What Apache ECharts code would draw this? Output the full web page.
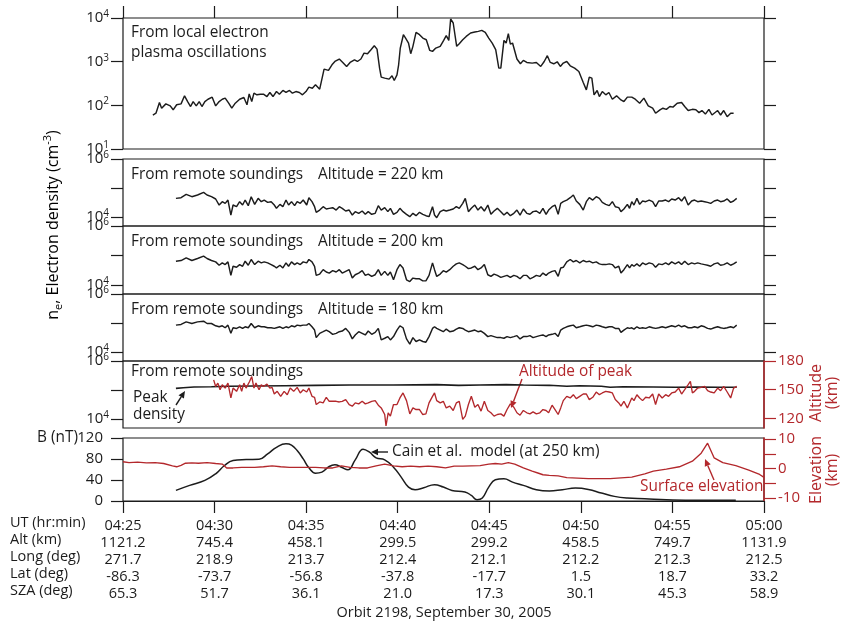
<!DOCTYPE html>
<html>
<head>
<meta charset="utf-8">
<script src="https://cdn.jsdelivr.net/npm/echarts@6/dist/echarts.min.js"></script>
<style>
  html, body { margin: 0; padding: 0; background: #fff; }
  #chart { width: 845px; height: 625px; }
</style>
</head>
<body>
<div id="chart"></div>
<script>
// Orbit 2198 pass, times in minutes after 04:25 UT

// Local electron plasma oscillations (cm^-3)
const localT = [
  1.63, 1.80, 1.99, 2.11, 2.34, 2.58, 2.74, 2.93, 3.17, 3.36,
  3.53, 3.69, 3.83, 4.00, 4.16, 4.31, 4.47, 4.64, 4.87, 5.06,
  5.25, 5.42, 5.58, 5.77, 5.94, 6.13, 6.37, 6.60, 6.77, 6.89,
  7.03, 7.15, 7.31, 7.50, 7.67, 7.86, 8.02, 8.19, 8.38, 8.54,
  8.73, 8.90, 9.09, 9.25, 9.44, 9.63, 9.80, 9.99, 10.15, 10.34,
  10.51, 10.74, 10.98, 11.22, 11.41, 11.57, 11.81, 12.00, 12.21, 12.40,
  12.64, 12.80, 12.99, 13.16, 13.35, 13.54, 13.72, 13.87, 14.01, 14.10,
  14.29, 14.53, 14.69, 14.81, 14.96, 15.05, 15.14, 15.31, 15.43, 15.59,
  15.71, 15.83, 16.00, 16.19, 16.37, 16.56, 16.75, 16.90, 17.08, 17.32,
  17.51, 17.65, 17.79, 17.89, 18.03, 18.22, 18.36, 18.55, 18.74, 18.98,
  19.21, 19.40, 19.59, 19.78, 19.97, 20.16, 20.35, 20.52, 20.63, 20.80,
  20.92, 21.04, 21.15, 21.27, 21.51, 21.70, 21.86, 22.05, 22.34, 22.57,
  22.81, 23.00, 23.17, 23.33, 23.52, 23.71, 23.88, 24.04, 24.23, 24.42,
  24.66, 24.89, 25.13, 25.30, 25.46, 25.60, 25.72, 25.89, 26.01, 26.17,
  26.36, 26.53, 26.72, 26.95, 27.19, 27.35, 27.54, 27.78, 27.97, 28.21,
  28.44, 28.68, 28.92, 29.08, 29.32, 29.48, 29.67, 29.86, 30.03, 30.26,
  30.50, 30.67, 30.86, 31.09, 31.28, 31.45, 31.61, 31.80, 31.99, 32.16,
  32.28, 32.47, 32.63, 32.80, 32.99, 33.18, 33.34
];
const localNe = [
  60, 66, 116, 86, 108, 97, 79, 103, 108, 165,
  122, 94, 122, 97, 122, 94, 122, 138, 154, 97,
  122, 138, 146, 112, 86, 112, 138, 151, 103, 183,
  122, 190, 174, 180, 180, 159, 197, 159, 207, 180,
  219, 197, 219, 190, 207, 197, 174, 207, 261, 247,
  295, 234, 675, 630, 849, 1010, 1150, 960, 778, 960,
  1105, 1010, 1150, 1570, 1520, 1880, 2320, 1940, 711, 442,
  420, 398, 475, 371, 500, 849, 2050, 4140, 3470, 2670,
  1520, 2240, 4690, 4140, 3470, 3180, 1810, 1720, 2050, 2240,
  3070, 3930, 3070, 9500, 7680, 2240, 2580, 3180, 3790, 4530,
  4770, 4940, 5210, 4690, 3470, 2670, 1880, 711, 711, 3070,
  2670, 4370, 2530, 2670, 1150, 895, 1070, 960, 927, 960,
  778, 1010, 1370, 960, 895, 995, 778, 927, 1010, 805,
  711, 597, 334, 226, 442, 420, 174, 219, 159, 207,
  174, 197, 138, 165, 133, 122, 154, 154, 138, 112,
  146, 97, 86, 66, 79, 86, 81, 94, 91, 112,
  116, 94, 76, 81, 79, 68, 76, 63, 81, 60,
  66, 76, 60, 76, 55, 66, 66
];

// Remote sounding times and densities at fixed altitudes (cm^-3)
const soundT = [
  2.89, 3.17, 3.45, 3.76, 4.07, 4.40, 4.59, 4.83, 5.06, 5.25,
  5.42, 5.58, 5.73, 5.89, 6.01, 6.20, 6.37, 6.53, 6.67, 6.84,
  7.00, 7.19, 7.38, 7.55, 7.71, 7.90, 8.09, 8.26, 8.38, 8.57,
  8.73, 8.90, 9.04, 9.20, 9.37, 9.51, 9.68, 9.84, 10.03, 10.15,
  10.32, 10.46, 10.55, 10.74, 10.93, 11.10, 11.26, 11.45, 11.64, 11.81,
  11.97, 12.16, 12.35, 12.52, 12.68, 12.87, 13.06, 13.23, 13.39, 13.58,
  13.77, 13.94, 14.10, 14.29, 14.46, 14.60, 14.77, 14.96, 15.12, 15.29,
  15.48, 15.66, 15.83, 16.00, 16.19, 16.37, 16.54, 16.71, 16.90, 17.01,
  17.13, 17.32, 17.49, 17.65, 17.84, 18.03, 18.20, 18.36, 18.55, 18.69,
  18.86, 19.02, 19.21, 19.38, 19.55, 19.73, 19.92, 20.09, 20.26, 20.44,
  20.63, 20.80, 20.97, 21.15, 21.34, 21.51, 21.68, 21.86, 22.05, 22.22,
  22.39, 22.57, 22.76, 22.93, 23.10, 23.24, 23.43, 23.59, 23.76, 23.90,
  24.04, 24.23, 24.42, 24.59, 24.75, 24.94, 25.13, 25.30, 25.46, 25.65,
  25.84, 26.01, 26.17, 26.36, 26.55, 26.72, 26.88, 27.07, 27.19, 27.35,
  27.54, 27.66, 27.78, 27.90, 28.06, 28.21, 28.37, 28.54, 28.73, 28.92,
  29.08, 29.25, 29.44, 29.63, 29.79, 29.96, 30.15, 30.34, 30.50, 30.67,
  30.86, 31.05, 31.21, 31.38, 31.57, 31.76, 31.92, 32.09, 32.28, 32.47,
  32.63, 32.80, 32.99, 33.18, 33.34, 33.51
];
const ne220 = [
  44000, 46400, 60500, 50200, 57400, 70900, 57400, 50200, 41800, 25900,
  33800, 29600, 38500, 11700, 25900, 22700, 33800, 25900, 38500, 24600,
  50200, 27300, 44000, 33800, 38500, 32000, 33800, 25900, 19900, 27300,
  22700, 38500, 25900, 33800, 24600, 33800, 29600, 38500, 25900, 46400,
  33800, 22700, 14500, 17400, 22700, 18900, 19900, 21000, 17400, 22700,
  19900, 16100, 17400, 11700, 15300, 13400, 16100, 12400, 15300, 12400,
  13400, 24600, 17400, 21000, 15300, 19900, 12400, 14500, 19900, 15300,
  12400, 10300, 13400, 11100, 14500, 12400, 11100, 10300, 22700, 11700,
  9500, 15300, 17400, 16100, 17400, 18900, 22700, 19900, 29600, 44000,
  15300, 19900, 25900, 17400, 22700, 16100, 25900, 12400, 16100, 19900,
  15300, 11700, 14500, 11100, 13400, 17400, 11700, 18900, 13400, 12400,
  15300, 16100, 13400, 19900, 12400, 17400, 22700, 25900, 12400, 29600,
  33800, 38500, 46400, 57400, 35600, 27300, 17400, 33800, 46400, 38500,
  50200, 44000, 32000, 27300, 24600, 33800, 22700, 21000, 15300, 18900,
  27300, 19900, 33800, 25900, 44000, 27300, 35600, 33800, 38500, 33800,
  22700, 35600, 35600, 38500, 33800, 41800, 38500, 46400, 35600, 50200,
  25900, 35600, 38500, 33800, 35600, 33800, 32000, 29600, 35600, 38500,
  33800, 35600, 41800, 32000, 35600, 44000
];
const ne200 = [
  63800, 67200, 83100, 67200, 78800, 94800, 78800, 67200, 60500, 46400,
  55800, 48900, 60500, 21000, 42900, 39600, 48900, 42900, 63800, 46400,
  72800, 48900, 63800, 55800, 60500, 55800, 48900, 42900, 37600, 46400,
  37600, 55800, 42900, 60500, 48900, 55800, 48900, 60500, 55800, 72800,
  60500, 42900, 21000, 23300, 32900, 27300, 25200, 30400, 27300, 32900,
  25200, 28800, 32900, 17000, 22100, 25200, 30400, 21000, 23300, 19400,
  22100, 32900, 21000, 28800, 21000, 27300, 14900, 32900, 48900, 37600,
  14900, 13000, 17000, 16100, 16100, 13700, 13700, 21000, 55800, 32900,
  19400, 23300, 30400, 27300, 32900, 42900, 51600, 55800, 48900, 42900,
  35600, 37600, 42900, 32900, 37600, 48900, 22100, 19400, 23300, 21000,
  17900, 19400, 21000, 17900, 21000, 19400, 16100, 21000, 21000, 16100,
  17900, 21000, 19400, 25200, 21000, 25200, 28800, 30400, 19400, 37600,
  39600, 60500, 72800, 60500, 67200, 55800, 67200, 60500, 63800, 55800,
  60500, 51600, 48900, 48900, 51600, 48900, 37600, 42900, 25200, 32900,
  48900, 37600, 48900, 42900, 51600, 42900, 55800, 48900, 55800, 51600,
  39600, 51600, 48900, 55800, 48900, 60500, 51600, 60500, 48900, 63800,
  48900, 55800, 51600, 55800, 51600, 48900, 46400, 42900, 51600, 55800,
  46400, 48900, 55800, 46400, 51600, 60500
];
const ne180 = [
  84500, 89000, 109600, 96200, 109600, 115400, 96200, 96200, 80200, 74100,
  80200, 68600, 84500, 44000, 68600, 65100, 74100, 65100, 74100, 68600,
  96200, 68600, 80200, 74100, 74100, 68600, 68600, 65100, 68600, 74100,
  65100, 74100, 68600, 80200, 74100, 84500, 80200, 84500, 84500, 96200,
  74100, 57100, 31400, 44000, 50200, 57100, 50200, 40700, 44000, 50200,
  52800, 65100, 47600, 28300, 38700, 50200, 44000, 38700, 52800, 40700,
  47600, 65100, 26200, 29800, 34000, 26200, 34000, 57100, 80200, 68600,
  28300, 18700, 31400, 23000, 26200, 23000, 21800, 34000, 65100, 74100,
  65100, 57100, 50200, 61800, 50200, 52800, 61800, 68600, 65100, 57100,
  50200, 52800, 57100, 50200, 52800, 44000, 34000, 36700, 34000, 31400,
  31400, 29800, 34000, 31400, 34000, 36700, 28300, 34000, 34000, 36700,
  31400, 34000, 36700, 38700, 34000, 38700, 40700, 44000, 34000, 57100,
  65100, 74100, 80200, 84500, 68600, 74100, 80200, 84500, 80200, 74100,
  84500, 80200, 74100, 68600, 74100, 74100, 65100, 65100, 47600, 57100,
  68600, 65100, 68600, 61800, 74100, 65100, 68600, 65100, 74100, 68600,
  65100, 68600, 74100, 68600, 74100, 80200, 74100, 84500, 74100, 80200,
  68600, 68600, 74100, 68600, 80200, 74100, 65100, 61800, 68600, 74100,
  68600, 65100, 68600, 74100, 68600, 84500
];

// Peak density (cm^-3)
const peakT = [2.89, 3.29, 3.88, 4.83, 5.77, 7.19, 8.85, 10.51, 12.40, 14.77, 17.13, 18.32, 19.50,
               20.92, 21.86, 23.28, 24.23, 24.94, 26.12, 26.60, 27.31, 28.96, 30.15, 31.33, 32.51, 33.51];
const peakNe = [114000, 120000, 127000, 130000, 134000, 137000, 141000, 145000, 149000, 149000, 153000, 145000, 149000,
                153000, 149000, 145000, 134000, 141000, 134000, 124000, 130000, 127000, 124000, 127000, 124000, 124000];

// Altitude of the density peak (km)
const peakAltT = [
  4.95, 5.06, 5.18, 5.30, 5.42, 5.58, 5.73, 5.89, 6.01, 6.20,
  6.37, 6.48, 6.60, 6.72, 6.91, 7.03, 7.15, 7.26, 7.43, 7.55,
  7.67, 7.86, 8.02, 8.14, 8.26, 8.42, 8.61, 8.80, 8.97, 9.13,
  9.32, 9.51, 9.68, 9.84, 10.03, 10.15, 10.32, 10.46, 10.55, 10.74,
  10.93, 11.10, 11.26, 11.45, 11.64, 11.81, 11.97, 12.16, 12.35, 12.52,
  12.68, 12.87, 13.06, 13.23, 13.39, 13.58, 13.77, 13.94, 14.10, 14.29,
  14.36, 14.48, 14.60, 14.77, 14.96, 15.12, 15.29, 15.48, 15.66, 15.83,
  16.00, 16.19, 16.37, 16.54, 16.71, 16.90, 17.01, 17.13, 17.32, 17.49,
  17.65, 17.84, 18.03, 18.20, 18.36, 18.55, 18.69, 18.86, 19.02, 19.21,
  19.38, 19.55, 19.73, 19.92, 20.09, 20.26, 20.44, 20.63, 20.80, 20.97,
  21.15, 21.34, 21.51, 21.68, 21.86, 22.05, 22.22, 22.39, 22.57, 22.76,
  22.93, 23.10, 23.24, 23.43, 23.59, 23.76, 23.90, 24.04, 24.23, 24.42,
  24.59, 24.75, 24.94, 25.13, 25.30, 25.46, 25.65, 25.84, 26.01, 26.17,
  26.36, 26.55, 26.72, 26.88, 27.07, 27.19, 27.35, 27.54, 27.66, 27.78,
  27.90, 28.06, 28.21, 28.37, 28.54, 28.73, 28.92, 29.08, 29.25, 29.44,
  29.63, 29.79, 29.96, 30.15, 30.34, 30.50, 30.67, 30.86, 30.98, 31.09,
  31.21, 31.38, 31.57, 31.76, 31.92, 32.09, 32.28, 32.47, 32.63, 32.80,
  32.99, 33.18, 33.34, 33.51
];
const peakAltKm = [
  160.3, 153.4, 156.9, 150.0, 155.2, 151.7, 156.9, 141.4, 151.7, 148.3,
  155.2, 148.3, 156.9, 151.7, 158.6, 163.8, 151.7, 156.9, 150.0, 155.2,
  153.4, 155.9, 151.7, 152.4, 145.5, 148.3, 143.1, 148.3, 144.8, 151.7,
  148.3, 152.4, 146.6, 150.0, 147.6, 151.7, 143.1, 142.1, 134.5, 137.2,
  136.2, 142.1, 137.9, 137.9, 137.9, 137.2, 137.9, 139.7, 134.5, 132.8,
  136.2, 135.2, 137.9, 135.2, 136.2, 137.9, 138.6, 133.8, 131.0, 124.1,
  112.1, 125.9, 122.4, 134.5, 134.5, 141.4, 146.6, 138.6, 124.8, 131.0,
  129.3, 129.3, 124.1, 124.8, 136.2, 143.1, 146.6, 138.6, 136.2, 137.9,
  131.0, 132.8, 128.3, 136.2, 137.9, 119.0, 122.4, 134.5, 143.1, 131.7,
  134.5, 127.6, 137.9, 128.3, 125.9, 122.4, 124.1, 124.8, 122.4, 129.3,
  135.2, 131.7, 125.9, 123.4, 128.3, 125.9, 124.8, 126.9, 124.8, 125.9,
  129.3, 128.3, 125.9, 133.8, 129.3, 124.1, 131.0, 138.6, 143.1, 141.4,
  144.8, 140.7, 143.1, 145.5, 145.5, 139.7, 142.1, 147.6, 144.8, 146.6,
  148.3, 147.6, 146.6, 139.7, 136.2, 132.8, 137.9, 131.0, 136.2, 141.4,
  138.6, 144.8, 141.4, 138.6, 142.1, 141.4, 145.5, 134.5, 145.5, 141.4,
  144.8, 143.1, 146.6, 147.6, 151.7, 145.5, 150.0, 155.2, 158.6, 146.6,
  148.3, 151.7, 152.4, 153.4, 149.0, 147.6, 146.6, 151.7, 149.0, 153.4,
  147.6, 141.4, 151.7, 153.4
];

// Cain et al. crustal field model at 250 km (nT)
const cainT = [2.89, 3.64, 4.47, 5.06, 5.54, 6.01, 6.72, 7.43, 7.90, 8.38, 8.90, 9.20, 9.51, 9.84,
               10.15, 10.51, 10.86, 11.26, 11.57, 11.93, 12.28, 12.68, 13.11, 13.46, 13.82, 14.29, 14.77,
               15.19, 15.59, 15.95, 16.42, 17.01, 17.49, 17.96, 18.67, 19.02, 19.33, 19.62, 19.97, 20.33,
               20.80, 21.27, 21.86, 22.57, 23.28, 23.99, 24.70, 25.41, 26.12, 26.83, 27.54, 28.49, 29.67,
               31.33, 33.46];
const cainB = [20.2, 29.7, 39.2, 51.8, 67.6, 77.1, 79.0, 79.6, 89.7, 102.3, 109.0, 106.5, 96.0, 80.2,
               63.2, 53.0, 55.0, 65.7, 68.9, 64.4, 59.4, 78.3, 98.5, 92.9, 82.1, 78.3, 64.4,
               45.5, 26.5, 21.5, 25.3, 31.0, 26.5, 20.2, 17.1, 10.7, 2.5, 5.7, 26.5, 40.4,
               42.3, 36.0, 29.7, 21.5, 19.0, 21.5, 24.6, 22.1, 15.2, 8.8, 5.7, 4.4, 2.5,
               1.3, 1.3];

// Surface elevation below the track (km)
const elevT = [0.00, 0.33, 0.80, 1.28, 1.75, 2.22, 2.70, 2.93, 3.17, 3.41, 3.76, 4.12, 4.59, 5.06,
               5.42, 5.66, 6.01, 6.48, 7.19, 7.67, 8.14, 8.61, 9.09, 9.80, 10.51, 10.98, 11.45, 11.93,
               12.40, 12.87, 13.35, 13.82, 14.29, 14.77, 15.24, 15.71, 16.19, 16.66, 17.13, 17.61, 18.08,
               18.55, 19.02, 19.50, 19.97, 20.33, 20.68, 21.04, 21.39, 21.86, 22.34, 22.69, 22.93, 23.28,
               23.76, 24.23, 25.41, 26.60, 27.78, 28.49, 28.96, 29.67, 30.38, 31.09, 31.57, 31.92, 32.28,
               32.75, 33.46, 34.17, 34.76, 35.00];
const elevKm = [2.3, 2.0, 2.2, 1.9, 2.0, 1.7, 0.9, 0.6, 1.1, 1.8, 1.9, 1.8, 2.0, 1.7,
                1.5, 0.2, 0.2, 0.4, 0.4, 0.6, 0.9, 0.6, 0.4, 0.4, 0.4, 0.2, 0.2, 0.9,
                0.4, 0.2, 0.2, 0.9, 1.5, 0.9, 0.6, 0.8, 0.6, 0.8, 0.6, 0.2, 0.8,
                0.8, 0.9, 1.0, 1.5, 1.7, 1.5, 2.0, 1.5, 0.2, -0.9, -1.6, -2.1, -2.3,
                -2.5, -3.1, -3.4, -3.4, -2.9, -1.8, -0.9, -0.2, 0.6, 2.5, 5.2, 8.6, 3.6,
                2.0, 1.0, -0.5, -2.0, -3.0];

// Orbit ephemeris rows under the time axis
const utLabels = ['04:25', '04:30', '04:35', '04:40', '04:45', '04:50', '04:55', '05:00'];
const altKm = ['1121.2', '745.4', '458.1', '299.5', '299.2', '458.5', '749.7', '1131.9'];
const longDeg = ['271.7', '218.9', '213.7', '212.4', '212.1', '212.2', '212.3', '212.5'];
const latDeg = ['-86.3', '-73.7', '-56.8', '-37.8', '-17.7', '1.5', '18.7', '33.2'];
const szaDeg = ['65.3', '51.7', '36.1', '21.0', '17.3', '30.1', '45.3', '58.9'];
const rowNames = ['UT (hr:min)', 'Alt (km)', 'Long (deg)', 'Lat (deg)', 'SZA (deg)'];

const FONT = 'Open Sans';
const INK = '#1c1c1c';
const RED = '#b3282c';
const ANN = 15.4;   // annotation font size
const TAB = 14.5;   // ephemeris table font size

const zip = (xs, ys) => xs.map((x, i) => [x, ys[i]]);

const chart = echarts.init(document.getElementById('chart'), null, { renderer: 'canvas' });

const L = 123, W = 641;
const panels = [
  { top: 18, height: 131 },
  { top: 159, height: 67 },
  { top: 226, height: 68 },
  { top: 294, height: 67 },
  { top: 361, height: 67 },
  { top: 438, height: 63 }
];
const grid = panels.map(p => ({
  left: L, width: W, top: p.top, height: p.height,
  show: true, borderColor: INK, borderWidth: 1.2, backgroundColor: 'transparent'
}));

const tickStyle = (c) => ({ color: c, width: 1.2 });

const xAxis = panels.map((p, i) => {
  const ax = {
    type: 'value', gridIndex: i, min: 0, max: 35, interval: 5,
    splitLine: { show: false },
    axisLine: { show: false, onZero: false },
    axisTick: { show: false },
    axisLabel: { show: false }
  };
  if (i === 0) {
    ax.position = 'top';
    ax.axisTick = { show: true, inside: false, length: 12, lineStyle: tickStyle(INK) };
  }
  if (i === 5) {
    ax.position = 'bottom';
    ax.axisLine = { show: true, onZero: false, lineStyle: tickStyle(INK) };
    ax.axisTick = { show: true, inside: false, length: 12, lineStyle: tickStyle(INK) };
    ax.axisLabel = {
      show: true, margin: 16, color: INK, fontFamily: FONT, fontSize: TAB, lineHeight: 17,
      align: 'center',
      formatter: (v) => {
        const k = Math.round(v / 5);
        return [utLabels[k], altKm[k], longDeg[k], latDeg[k], szaDeg[k]].join('\n');
      }
    };
  }
  return ax;
});

const powRich = {
  b: { fontFamily: FONT, fontSize: 15, color: INK, lineHeight: 18 },
  s: { fontFamily: FONT, fontSize: 10, color: INK, lineHeight: 11, verticalAlign: 'top' }
};
const powFmt = (v) => '{b|10}{s|' + Math.round(Math.log10(v)) + '}';

function logLeft(gi, min, max, labelVals, tickVals) {
  return {
    type: 'log', logBase: 10, gridIndex: gi, position: 'left', min, max,
    splitLine: { show: false },
    axisLine: { show: false, onZero: false },
    axisTick: { show: true, inside: false, length: 12, lineStyle: tickStyle(INK), customValues: tickVals },
    axisLabel: { show: true, margin: 14, formatter: powFmt, rich: powRich, customValues: labelVals }
  };
}
function logRight(gi, min, max, tickVals) {
  return {
    type: 'log', logBase: 10, gridIndex: gi, position: 'right', min, max,
    splitLine: { show: false },
    axisLine: { show: false, onZero: false },
    axisTick: { show: true, inside: false, length: 12, lineStyle: tickStyle(INK), customValues: tickVals },
    axisLabel: { show: false }
  };
}
const NMIN = 4900, NMAX = 1e6;
const dec = [1e4, 1e5, 1e6], decLab = [1e4, 1e6];

const yAxis = [
  logLeft(0, 10, 1e4, [10, 100, 1000, 10000], [10, 100, 1000, 10000]),
  logRight(0, 10, 1e4, [10, 100, 1000, 10000]),
  logLeft(1, NMIN, NMAX, decLab, dec),
  logRight(1, NMIN, NMAX, dec),
  logLeft(2, NMIN, NMAX, decLab, dec),
  logRight(2, NMIN, NMAX, dec),
  logLeft(3, NMIN, NMAX, decLab, dec),
  logRight(3, NMIN, NMAX, dec),
  logLeft(4, NMIN, NMAX, decLab, dec),
  {
    type: 'value', gridIndex: 4, position: 'right', min: 110, max: 180,
    splitLine: { show: false },
    axisLine: { show: true, onZero: false, lineStyle: { color: RED, width: 1.5 } },
    axisTick: { show: true, inside: false, length: 12, lineStyle: tickStyle(RED), customValues: [120, 150, 180] },
    axisLabel: { show: true, margin: 14, color: RED, fontFamily: FONT, fontSize: 15, customValues: [120, 150, 180] }
  },
  {
    type: 'value', gridIndex: 5, position: 'left', min: 0, max: 120, interval: 40,
    splitLine: { show: false },
    axisLine: { show: false, onZero: false },
    axisTick: { show: true, inside: false, length: 12, lineStyle: tickStyle(INK) },
    axisLabel: { show: true, margin: 20, color: INK, fontFamily: FONT, fontSize: 15 }
  },
  {
    type: 'value', gridIndex: 5, position: 'right', min: -11, max: 10.35,
    splitLine: { show: false },
    axisLine: { show: true, onZero: false, lineStyle: { color: RED, width: 1.5 } },
    axisTick: { show: true, inside: false, length: 12, lineStyle: tickStyle(RED), customValues: [-10, -5, 0, 5, 10] },
    axisLabel: { show: true, margin: 14, color: RED, fontFamily: FONT, fontSize: 15, customValues: [-10, 0, 10] }
  }
];

const lineSeries = (name, xi, yi, data, color, width, smooth) => ({
  name, type: 'line', xAxisIndex: xi, yAxisIndex: yi, data,
  showSymbol: false, symbol: 'none', smooth: smooth || false,
  lineStyle: { color, width }, itemStyle: { color }, animation: false, z: 3
});

const series = [
  lineSeries('local', 0, 0, zip(localT, localNe), INK, 1.45),
  lineSeries('220 km', 1, 2, zip(soundT, ne220), INK, 1.45),
  lineSeries('200 km', 2, 4, zip(soundT, ne200), INK, 1.45),
  lineSeries('180 km', 3, 6, zip(soundT, ne180), INK, 1.45),
  lineSeries('Peak density', 4, 8, zip(peakT, peakNe), INK, 1.6),
  lineSeries('Altitude of peak', 4, 9, zip(peakAltT, peakAltKm), RED, 1.35),
  lineSeries('Cain et al.', 5, 10, zip(cainT, cainB), INK, 1.5, 0.45),
  lineSeries('Surface elevation', 5, 11, zip(elevT, elevKm), RED, 1.35)
];

// Annotation helpers
const txt = (x, y, text, opts) => ({
  type: 'text', x, y, z: 10, silent: true,
  style: Object.assign({ text, fill: INK, fontFamily: FONT, fontSize: ANN, align: 'left', verticalAlign: 'middle' }, opts || {})
});
function arrow(x1, y1, x2, y2, color) {
  const a = Math.atan2(y2 - y1, x2 - x1), hl = 7, hw = 3.2;
  const bx = x2 - hl * Math.cos(a), by = y2 - hl * Math.sin(a);
  const px = -Math.sin(a) * hw, py = Math.cos(a) * hw;
  return {
    type: 'group', z: 10, silent: true, children: [
      { type: 'line', shape: { x1, y1, x2: bx, y2: by }, style: { stroke: color, lineWidth: 1.4 } },
      { type: 'polygon', shape: { points: [[x2, y2], [bx + px, by + py], [bx - px, by - py]] }, style: { fill: color } }
    ]
  };
}

const graphic = [
  txt(131, 33, 'From local electron'),
  txt(131, 53, 'plasma oscillations'),
  txt(131, 175, 'From remote soundings'), txt(318, 175, 'Altitude = 220 km'),
  txt(131, 242, 'From remote soundings'), txt(318, 242, 'Altitude = 200 km'),
  txt(131, 310, 'From remote soundings'), txt(318, 310, 'Altitude = 180 km'),
  txt(131, 372, 'From remote soundings'),
  txt(133, 398, 'Peak'), txt(133, 415, 'density'),
  arrow(176, 405, 185, 391, INK),
  txt(519, 372, 'Altitude of peak', { fill: RED }),
  arrow(522, 379, 511, 408, RED),
  txt(392, 452, 'Cain et al.  model (at 250 km)'),
  arrow(388, 452, 371, 452, INK),
  txt(640, 487, 'Surface elevation', { fill: RED }),
  arrow(714, 480, 705, 459, RED),
  txt(78, 438, 'B (nT)', { align: 'right' }),
  {
    type: 'text', x: 53, y: 225, rotation: Math.PI / 2, z: 10, silent: true,
    style: {
      text: '{t|n}{sub|e}{t|, Electron density (cm}{sup|-3}{t|)}',
      align: 'center', verticalAlign: 'middle',
      rich: {
        t: { fontFamily: FONT, fontSize: 16, color: INK, lineHeight: 22 },
        sub: { fontFamily: FONT, fontSize: 11, color: INK, lineHeight: 13, verticalAlign: 'bottom' },
        sup: { fontFamily: FONT, fontSize: 11, color: INK, lineHeight: 12, verticalAlign: 'top' }
      }
    }
  },
  {
    type: 'text', x: 824, y: 393, rotation: Math.PI / 2, z: 10, silent: true,
    style: { text: 'Altitude\n(km)', fill: RED, fontFamily: FONT, fontSize: 16, lineHeight: 16, align: 'center', verticalAlign: 'middle' }
  },
  {
    type: 'text', x: 824, y: 470, rotation: Math.PI / 2, z: 10, silent: true,
    style: { text: 'Elevation\n(km)', fill: RED, fontFamily: FONT, fontSize: 16, lineHeight: 16, align: 'center', verticalAlign: 'middle' }
  },
  txt(444, 613, 'Orbit 2198, September 30, 2005', { align: 'center', fontSize: TAB })
];
rowNames.forEach((n, i) => graphic.push(txt(10, 523 + 17 * i, n, { fontSize: TAB })));

chart.setOption({
  animation: false,
  backgroundColor: '#fff',
  textStyle: { fontFamily: FONT },
  grid, xAxis, yAxis, series, graphic
});
</script>
</body>
</html>
